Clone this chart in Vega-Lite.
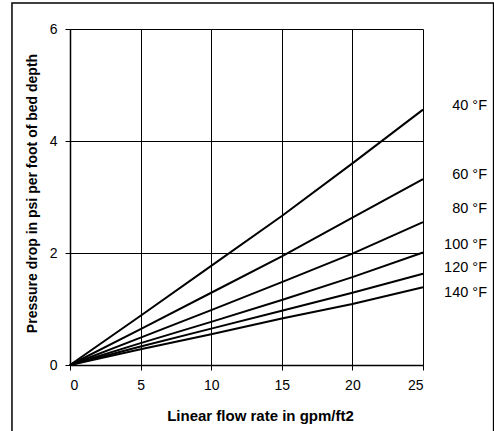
{
  "$schema": "https://vega.github.io/schema/vega-lite/v6.json",
  "width": 353,
  "height": 336,
  "autosize": {"type": "none"},
  "padding": {"left": 70, "top": 29, "right": 71, "bottom": 66},
  "background": "white",
  "config": {
    "font": "Liberation Sans",
    "view": {"stroke": null},
    "axis": {
      "grid": true,
      "gridColor": "#000",
      "gridOpacity": 1,
      "gridWidth": 1,
      "domainColor": "#000",
      "domainWidth": 1.5,
      "tickColor": "#000",
      "tickSize": 5,
      "labelFontSize": 14,
      "labelColor": "#000",
      "titleFontSize": 14,
      "titleFontWeight": "bold",
      "titleColor": "#000"
    }
  },
  "datasets": {
    "curves": [
      {"temp": "40 °F", "flow": 0, "dp": 0},
      {"temp": "40 °F", "flow": 5, "dp": 0.88},
      {"temp": "40 °F", "flow": 10, "dp": 1.77},
      {"temp": "40 °F", "flow": 15, "dp": 2.66},
      {"temp": "40 °F", "flow": 20, "dp": 3.6},
      {"temp": "40 °F", "flow": 25, "dp": 4.56},
      {"temp": "60 °F", "flow": 0, "dp": 0},
      {"temp": "60 °F", "flow": 5, "dp": 0.64},
      {"temp": "60 °F", "flow": 10, "dp": 1.29},
      {"temp": "60 °F", "flow": 15, "dp": 1.94},
      {"temp": "60 °F", "flow": 20, "dp": 2.63},
      {"temp": "60 °F", "flow": 25, "dp": 3.32},
      {"temp": "80 °F", "flow": 0, "dp": 0},
      {"temp": "80 °F", "flow": 5, "dp": 0.49},
      {"temp": "80 °F", "flow": 10, "dp": 0.98},
      {"temp": "80 °F", "flow": 15, "dp": 1.48},
      {"temp": "80 °F", "flow": 20, "dp": 1.99},
      {"temp": "80 °F", "flow": 25, "dp": 2.55},
      {"temp": "100 °F", "flow": 0, "dp": 0},
      {"temp": "100 °F", "flow": 5, "dp": 0.39},
      {"temp": "100 °F", "flow": 10, "dp": 0.77},
      {"temp": "100 °F", "flow": 15, "dp": 1.16},
      {"temp": "100 °F", "flow": 20, "dp": 1.57},
      {"temp": "100 °F", "flow": 25, "dp": 2.01},
      {"temp": "120 °F", "flow": 0, "dp": 0},
      {"temp": "120 °F", "flow": 5, "dp": 0.33},
      {"temp": "120 °F", "flow": 10, "dp": 0.65},
      {"temp": "120 °F", "flow": 15, "dp": 0.97},
      {"temp": "120 °F", "flow": 20, "dp": 1.29},
      {"temp": "120 °F", "flow": 25, "dp": 1.63},
      {"temp": "140 °F", "flow": 0, "dp": 0},
      {"temp": "140 °F", "flow": 5, "dp": 0.28},
      {"temp": "140 °F", "flow": 10, "dp": 0.55},
      {"temp": "140 °F", "flow": 15, "dp": 0.83},
      {"temp": "140 °F", "flow": 20, "dp": 1.09},
      {"temp": "140 °F", "flow": 25, "dp": 1.39}
    ],
    "labels": [
      {"temp": "40 °F", "flow": 25, "dp": 4.62},
      {"temp": "60 °F", "flow": 25, "dp": 3.39},
      {"temp": "80 °F", "flow": 25, "dp": 2.78},
      {"temp": "100 °F", "flow": 25, "dp": 2.14},
      {"temp": "120 °F", "flow": 25, "dp": 1.73},
      {"temp": "140 °F", "flow": 25, "dp": 1.28}
    ]
  },
  "layer": [
    {
      "data": {"name": "curves"},
      "mark": {"type": "line", "color": "#000", "strokeWidth": 2, "clip": false},
      "encoding": {
        "x": {
          "field": "flow",
          "type": "quantitative",
          "scale": {"domain": [0, 25], "nice": false, "zero": false},
          "axis": {
            "values": [0, 5, 10, 15, 20, 25],
            "format": "d",
            "title": "Linear flow rate in gpm/ft2",
            "titleFontSize": 15,
            "labelPadding": 8,
            "titleX": 190,
            "titleY": 50,
            "titleAlign": "center",
            "titleBaseline": "middle"
          }
        },
        "y": {
          "field": "dp",
          "type": "quantitative",
          "scale": {"domain": [0, 6], "nice": false},
          "axis": {
            "values": [0, 2, 4, 6],
            "format": "d",
            "title": "Pressure drop in psi per foot of bed depth",
            "labelPadding": 8,
            "titleX": -38,
            "titleY": 164,
            "titleAlign": "center",
            "titleBaseline": "middle"
          }
        },
        "detail": {"field": "temp"}
      }
    },
    {
      "data": {"name": "labels"},
      "mark": {"type": "text", "align": "right", "baseline": "middle", "dx": 64, "fontSize": 14.5, "color": "#000", "clip": false},
      "encoding": {
        "x": {"field": "flow", "type": "quantitative"},
        "y": {"field": "dp", "type": "quantitative"},
        "text": {"field": "temp"}
      }
    },
    {
      "data": {"values": [{}]},
      "mark": {"type": "rect", "fill": null, "stroke": "#000", "strokeWidth": 1.5, "clip": false},
      "encoding": {
        "x": {"datum": -4.11},
        "x2": {"datum": 30},
        "y": {"datum": 6.464},
        "y2": {"datum": -2}
      }
    }
  ]
}
